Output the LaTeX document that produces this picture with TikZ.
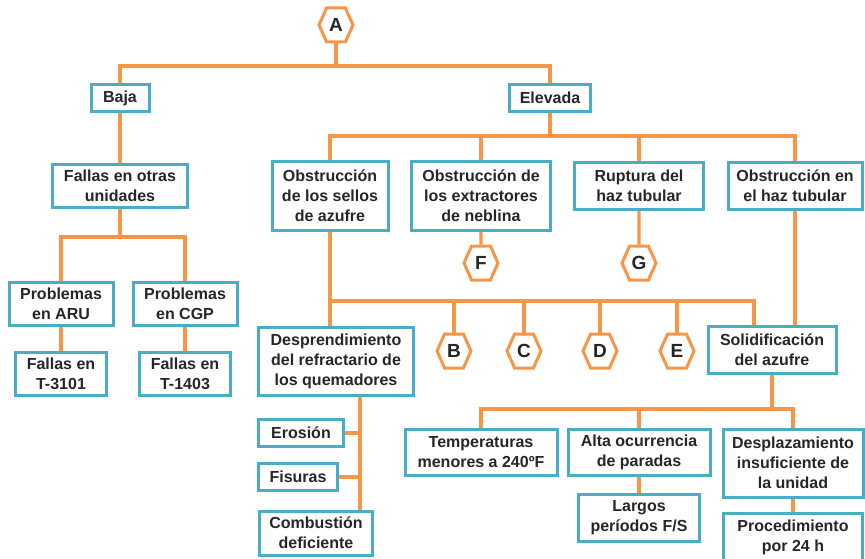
\documentclass[tikz,border=0pt]{standalone}
\usepackage{fontspec}
\setmainfont{Liberation Sans}
\usetikzlibrary{shapes}
\definecolor{naranja}{HTML}{F79646}
\definecolor{azul}{HTML}{4BACC6}

\begin{document}
\begin{tikzpicture}[x=1pt,y=-1pt]
\tikzstyle{every node}=[font=\fontsize{16}{20}\selectfont\bfseries, text=black!85]
\tikzstyle{box}=[draw=azul, line width=3pt, fill=white, align=center, inner sep=0pt]
\tikzstyle{hexa}=[draw=naranja, line width=3pt, fill=white, signal, signal to=west and east, signal pointer angle=132, minimum width=34pt, minimum height=34pt, inner sep=0pt, font=\fontsize{19}{20}\selectfont\bfseries]
\tikzstyle{link}=[draw=naranja, line width=3.2pt]
\useasboundingbox (0,0) rectangle (865,559);
% upper part
\node[hexa] (a) at (336,25) {A};
\node[box, minimum width=58, minimum height=27] (baja) at (120,98) {Baja};
\node[box, minimum width=81, minimum height=27] (elev) at (550,98) {Elevada};
\node[box, minimum width=135, minimum height=43] (otras) at (120,186) {Fallas en otras\\unidades};
\node[box, minimum width=104, minimum height=43] (aru) at (61,304) {Problemas\\en ARU};
\node[box, minimum width=104, minimum height=43] (cgp) at (185,304) {Problemas\\en CGP};
\node[box, minimum width=91, minimum height=43] (t1) at (61,374) {Fallas en\\T-3101};
\node[box, minimum width=91, minimum height=43] (t2) at (185,374) {Fallas en\\T-1403};
\node[box, minimum width=116, minimum height=68] (sellos) at (330,196) {Obstrucción\\de los sellos\\de azufre};
\node[box, minimum width=139, minimum height=68] (extr) at (481,196) {Obstrucción de\\los extractores\\de neblina};
\node[box, minimum width=129, minimum height=47] (rupt) at (639,186) {Ruptura del\\haz tubular};
\node[box, minimum width=134, minimum height=47] (haz) at (795,186) {Obstrucción en\\el haz tubular};
\node[hexa] (f) at (481,263) {F};
\node[hexa] (g) at (639,263) {G};
% lower part
\node[box, minimum width=155, minimum height=68] (desp) at (336,361) {Desprendimiento\\del refractario de\\los quemadores};
\node[hexa] (b) at (454,351) {B};
\node[hexa] (c) at (524,351) {C};
\node[hexa] (d) at (600,351) {D};
\node[hexa] (e) at (677,351) {E};
\node[box, minimum width=128, minimum height=47] (solid) at (772,350) {Solidificación\\del azufre};
\node[box, minimum width=85, minimum height=27] (eros) at (301,433) {Erosión};
\node[box, minimum width=79, minimum height=27] (fis) at (298,477) {Fisuras};
\node[box, minimum width=113, minimum height=44] (comb) at (316,533) {Combustión\\deficiente};
\node[box, minimum width=152, minimum height=46] (temp) at (481,452) {Temperaturas\\menores a 240ºF};
\node[box, minimum width=142, minimum height=46] (alta) at (639,452) {Alta ocurrencia\\de paradas};
\node[box, minimum width=140, minimum height=68] (despl) at (793,463) {Desplazamiento\\insuficiente de\\la unidad};
\node[box, minimum width=121, minimum height=47] (largos) at (639,518) {Largos\\períodos F/S};
\node[box, minimum width=139, minimum height=48] (proc) at (793,537) {Procedimiento\\por 24 h};
% connectors
\draw[link] (a.south) -- (a.south |- 0,66) -| (baja.north);
\draw[link] (a.south |- 0,66) -| (elev.north);
\draw[link] (baja) -- (otras);
\draw[link] (otras.south) -- (otras.south |- 0,237) -| (aru.north);
\draw[link] (otras.south |- 0,237) -| (cgp.north);
\draw[link] (aru) -- (t1);
\draw[link] (cgp) -- (t2);
\draw[link] (elev.south) -- (elev.south |- 0,136) -| (sellos.north);
\draw[link] (elev.south |- 0,136) -| (haz.north);
\draw[link] (extr.north) -- (extr.north |- 0,136);
\draw[link] (rupt.north) -- (rupt.north |- 0,136);
\draw[link] (extr) -- (f);
\draw[link] (rupt) -- (g);
\draw[link] (sellos.south) -- (sellos.south |- 0,301) -| ([xshift=-18]solid.north);
\draw[link] (sellos.south |- 0,301) -- (sellos.south |- desp.north);
\foreach \h in {b,c,d,e}
  \draw[link] (\h.north) -- (\h.north |- 0,301);
\draw[link] (haz) -- (haz |- solid.north);
\draw[link] (desp.south -| 360,0) -- (comb.north -| 360,0);
\draw[link] (eros) -- (eros -| 360,0);
\draw[link] (fis) -- (fis -| 360,0);
\draw[link] (solid.south) -- (solid.south |- 0,409) -| (temp.north);
\draw[link] (solid.south |- 0,409) -| (despl.north);
\draw[link] (alta.north) -- (alta.north |- 0,409);
\draw[link] (alta) -- (largos);
\draw[link] (despl) -- (proc);
\end{tikzpicture}
\end{document}
